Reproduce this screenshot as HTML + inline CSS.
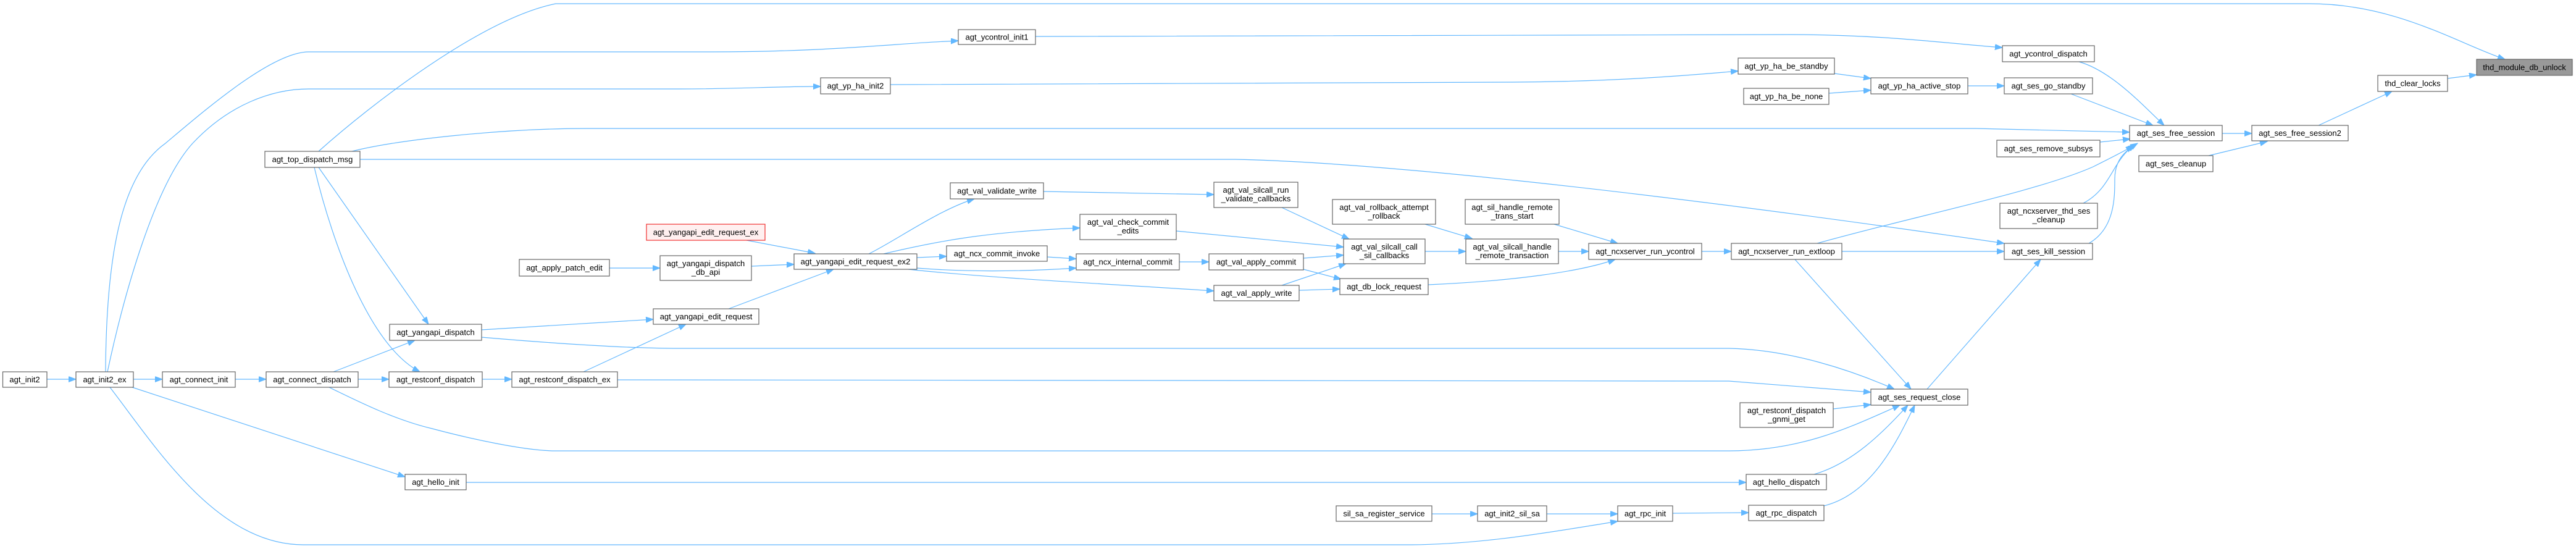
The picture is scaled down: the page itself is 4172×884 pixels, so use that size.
<!DOCTYPE html>
<html><head><meta charset="utf-8"><style>
html,body{margin:0;padding:0;background:#fff;}
svg{display:block;}
text{font-family:"Liberation Sans",Arial,sans-serif;font-size:13px;fill:#000;text-anchor:middle;}
.n{fill:#fff;stroke:#666;stroke-width:1.2;}
.e{fill:none;stroke:#63b8ff;stroke-width:1.2;marker-end:url(#a);}
</style></head><body>
<svg width="4172" height="884" viewBox="0 0 4172 884" xmlns="http://www.w3.org/2000/svg">
<defs><marker id="a" markerUnits="userSpaceOnUse" markerWidth="13" markerHeight="10" refX="12" refY="4.5" orient="auto"><path d="M0,0 L12,4.5 L0,9 z" fill="#63b8ff" stroke="#63b8ff"/></marker></defs>
<g>
<path class="e" d="M76,614 L123,614"/>
<path class="e" d="M216,614 L263,614"/>
<path class="e" d="M381,614 L431,614"/>
<path class="e" d="M171,602 C172,400 200,280 268,232 C330,180 440,84 500,84 L1150,84 C1350,84 1450,70 1552,66"/>
<path class="e" d="M174,602 C200,480 250,300 312,232 C370,170 440,144 500,144 L1100,144 C1200,144 1250,140 1329,140"/>
<path class="e" d="M516,245 C600,170 780,30 900,6 L3740,6 C3880,6 3980,70 4057,96"/>
<path class="e" d="M583,258 L2000,258 C2200,262 2600,300 3246,394"/>
<path class="e" d="M570,245 C650,225 820,208 950,208 L3200,208 L3449,214"/>
<path class="e" d="M516,271 L694,525"/>
<path class="e" d="M509,271 C540,400 600,560 680,602"/>
<path class="e" d="M540,602 L672,551"/>
<path class="e" d="M580,614 L630,614"/>
<path class="e" d="M533,627 C580,650 640,680 700,694 C760,710 850,730 900,730 L2800,730 C2920,730 3000,690 3077,656"/>
<path class="e" d="M214,627 L656,772"/>
<path class="e" d="M178,627 C250,720 350,882 491,882 L2280,882 C2400,882 2520,860 2620,844"/>
<path class="e" d="M780,534 L1058,517"/>
<path class="e" d="M780,546 C850,552 1000,564 1100,564 L2800,564 C2900,566 3000,600 3068,630"/>
<path class="e" d="M781,614 L829,614"/>
<path class="e" d="M945,602 L1111,525"/>
<path class="e" d="M1000,615 L2800,617 L3030,635"/>
<path class="e" d="M755,781 L2828,781"/>
<path class="e" d="M1209,389 L1320,410"/>
<path class="e" d="M1217,431 L1286,428"/>
<path class="e" d="M987,434 L1069,434"/>
<path class="e" d="M1180,500 L1350,436"/>
<path class="e" d="M1407,411 C1450,390 1520,340 1578,322"/>
<path class="e" d="M1431,411 C1520,390 1600,375 1749,369"/>
<path class="e" d="M1485,417 L1533,415"/>
<path class="e" d="M1485,434 C1560,440 1650,440 1743,434"/>
<path class="e" d="M1471,436 C1600,450 1800,460 1966,471"/>
<path class="e" d="M1696,416 L1743,419"/>
<path class="e" d="M1910,424 L1958,424"/>
<path class="e" d="M1690,310 L1966,315"/>
<path class="e" d="M1905,374 L2176,400"/>
<path class="e" d="M2076,336 L2185,387"/>
<path class="e" d="M2076,462 L2180,427"/>
<path class="e" d="M2111,418 L2176,413"/>
<path class="e" d="M2111,436 L2172,452"/>
<path class="e" d="M2104,470 L2170,468"/>
<path class="e" d="M2308,407 L2374,407"/>
<path class="e" d="M2308,363 L2384,386"/>
<path class="e" d="M2517,363 L2620,394"/>
<path class="e" d="M2524,407 L2573,407"/>
<path class="e" d="M2313,461 C2450,455 2560,440 2616,420"/>
<path class="e" d="M2756,407 L2804,407"/>
<path class="e" d="M2319,832 L2393,832"/>
<path class="e" d="M2505,832 L2620,832"/>
<path class="e" d="M2709,831 L2832,830"/>
<path class="e" d="M1677,59 L2900,56 C3050,56 3150,70 3243,77"/>
<path class="e" d="M1442,137 L2450,133 C2600,132 2700,125 2815,115"/>
<path class="e" d="M2971,119 L3030,127"/>
<path class="e" d="M2962,151 L3030,146"/>
<path class="e" d="M3187,139 L3246,139"/>
<path class="e" d="M3367,100 C3420,115 3470,170 3505,203"/>
<path class="e" d="M3354,152 L3487,203"/>
<path class="e" d="M3401,230 L3450,225"/>
<path class="e" d="M2943,394 C3100,350 3300,310 3390,270 C3420,255 3440,245 3455,236"/>
<path class="e" d="M3374,329 C3420,305 3420,260 3458,234"/>
<path class="e" d="M3383,394 C3425,370 3425,320 3425,290 C3425,260 3440,245 3462,232"/>
<path class="e" d="M2983,407 L3246,407"/>
<path class="e" d="M2907,420 L3095,630"/>
<path class="e" d="M3121,630 L3305,420"/>
<path class="e" d="M2969,662 L3030,655"/>
<path class="e" d="M2938,768 C3000,750 3050,700 3090,656"/>
<path class="e" d="M2954,819 C3030,800 3070,720 3101,656"/>
<path class="e" d="M3599,216 L3647,216"/>
<path class="e" d="M3577,252 L3672,229"/>
<path class="e" d="M3755,203 L3874,148"/>
<path class="e" d="M3964,127 L4011,121"/>
</g>
<g>
<rect class="n" x="4.5" y="602" width="71.5" height="25"/><text x="40" y="619">agt_init2</text>
<rect class="n" x="123" y="602" width="93" height="25"/><text x="169.5" y="619">agt_init2_ex</text>
<rect class="n" x="263" y="602" width="118" height="25"/><text x="322" y="619">agt_connect_init</text>
<rect class="n" x="431" y="602" width="149" height="25"/><text x="505.5" y="619">agt_connect_dispatch</text>
<rect class="n" x="429" y="245" width="154" height="26"/><text x="506" y="262.5">agt_top_dispatch_msg</text>
<rect class="n" x="631" y="525" width="149" height="26"/><text x="705.5" y="542.5">agt_yangapi_dispatch</text>
<rect class="n" x="630" y="602" width="151" height="25"/><text x="705.5" y="619">agt_restconf_dispatch</text>
<rect class="n" x="656" y="768" width="99" height="25"/><text x="705.5" y="785">agt_hello_init</text>
<rect x="1047" y="363" width="192" height="26" fill="#fff0f0" stroke="#f03030" stroke-width="1.2"/><text x="1143" y="380.5">agt_yangapi_edit_request_ex</text>
<rect class="n" x="841" y="420" width="146" height="27"/><text x="914" y="438">agt_apply_patch_edit</text>
<rect class="n" x="1069" y="414" width="148" height="40"/><text x="1143" y="431">agt_yangapi_dispatch</text><text x="1143" y="445">_db_api</text>
<rect class="n" x="1286" y="411" width="199" height="25"/><text x="1385.5" y="428">agt_yangapi_edit_request_ex2</text>
<rect class="n" x="1058" y="500" width="171" height="25"/><text x="1143.5" y="517">agt_yangapi_edit_request</text>
<rect class="n" x="829" y="602" width="171" height="25"/><text x="914.5" y="619">agt_restconf_dispatch_ex</text>
<rect class="n" x="1552" y="48" width="125" height="24"/><text x="1614.5" y="64.5">agt_ycontrol_init1</text>
<rect class="n" x="1329" y="126" width="113" height="26"/><text x="1385.5" y="143.5">agt_yp_ha_init2</text>
<rect class="n" x="1539" y="296" width="151" height="26"/><text x="1614.5" y="313.5">agt_val_validate_write</text>
<rect class="n" x="1966" y="295" width="136" height="41"/><text x="2034" y="312">agt_val_silcall_run</text><text x="2034" y="326">_validate_callbacks</text>
<rect class="n" x="1749" y="347" width="156" height="41"/><text x="1827" y="364">agt_val_check_commit</text><text x="1827" y="378">_edits</text>
<rect class="n" x="1533" y="398" width="163" height="25"/><text x="1614.5" y="415">agt_ncx_commit_invoke</text>
<rect class="n" x="1743" y="411" width="167" height="26"/><text x="1826.5" y="428.5">agt_ncx_internal_commit</text>
<rect class="n" x="1958" y="411" width="153" height="26"/><text x="2034.5" y="428.5">agt_val_apply_commit</text>
<rect class="n" x="1966" y="462" width="138" height="25"/><text x="2035" y="479">agt_val_apply_write</text>
<rect class="n" x="2158" y="323" width="167" height="40"/><text x="2241.5" y="340">agt_val_rollback_attempt</text><text x="2241.5" y="354">_rollback</text>
<rect class="n" x="2176" y="387" width="132" height="40"/><text x="2242" y="404">agt_val_silcall_call</text><text x="2242" y="418">_sil_callbacks</text>
<rect class="n" x="2170" y="451" width="143" height="26"/><text x="2241.5" y="468.5">agt_db_lock_request</text>
<rect class="n" x="2373" y="323" width="152" height="40"/><text x="2449" y="340">agt_sil_handle_remote</text><text x="2449" y="354">_trans_start</text>
<rect class="n" x="2374" y="387" width="150" height="40"/><text x="2449" y="404">agt_val_silcall_handle</text><text x="2449" y="418">_remote_transaction</text>
<rect class="n" x="2573" y="394" width="183" height="26"/><text x="2664.5" y="411.5">agt_ncxserver_run_ycontrol</text>
<rect class="n" x="2164" y="819" width="155" height="25"/><text x="2241.5" y="836">sil_sa_register_service</text>
<rect class="n" x="2393" y="819" width="112" height="25"/><text x="2449" y="836">agt_init2_sil_sa</text>
<rect class="n" x="2620" y="819" width="89" height="25"/><text x="2664.5" y="836">agt_rpc_init</text>
<rect class="n" x="3243" y="74" width="149" height="26"/><text x="3317.5" y="91.5">agt_ycontrol_dispatch</text>
<rect class="n" x="2815" y="94" width="156" height="26"/><text x="2893" y="111.5">agt_yp_ha_be_standby</text>
<rect class="n" x="2824" y="143" width="138" height="26"/><text x="2893" y="160.5">agt_yp_ha_be_none</text>
<rect class="n" x="3030" y="126" width="157" height="26"/><text x="3108.5" y="143.5">agt_yp_ha_active_stop</text>
<rect class="n" x="3246" y="126" width="143" height="26"/><text x="3317.5" y="143.5">agt_ses_go_standby</text>
<rect class="n" x="3449" y="203" width="150" height="25"/><text x="3524" y="220">agt_ses_free_session</text>
<rect class="n" x="3234" y="227" width="167" height="27"/><text x="3317.5" y="245">agt_ses_remove_subsys</text>
<rect class="n" x="3464" y="252" width="120" height="26"/><text x="3524" y="269.5">agt_ses_cleanup</text>
<rect class="n" x="3239" y="329" width="158" height="41"/><text x="3318" y="346">agt_ncxserver_thd_ses</text><text x="3318" y="360">_cleanup</text>
<rect class="n" x="2804" y="394" width="179" height="26"/><text x="2893.5" y="411.5">agt_ncxserver_run_extloop</text>
<rect class="n" x="3246" y="394" width="143" height="26"/><text x="3317.5" y="411.5">agt_ses_kill_session</text>
<rect class="n" x="3030" y="630" width="157" height="26"/><text x="3108.5" y="647.5">agt_ses_request_close</text>
<rect class="n" x="2818" y="652" width="151" height="40"/><text x="2893.5" y="669">agt_restconf_dispatch</text><text x="2893.5" y="683">_gnmi_get</text>
<rect class="n" x="2828" y="768" width="130" height="25"/><text x="2893" y="785">agt_hello_dispatch</text>
<rect class="n" x="2832" y="818" width="122" height="25"/><text x="2893" y="835">agt_rpc_dispatch</text>
<rect x="4011" y="96" width="155" height="26" fill="#999" stroke="#666" stroke-width="1.2"/><text x="4088.5" y="113.5">thd_module_db_unlock</text>
<rect class="n" x="3851" y="122" width="113" height="26"/><text x="3907.5" y="139.5">thd_clear_locks</text>
<rect class="n" x="3647" y="203" width="156" height="25"/><text x="3725" y="220">agt_ses_free_session2</text>
</g>
</svg>
</body></html>
